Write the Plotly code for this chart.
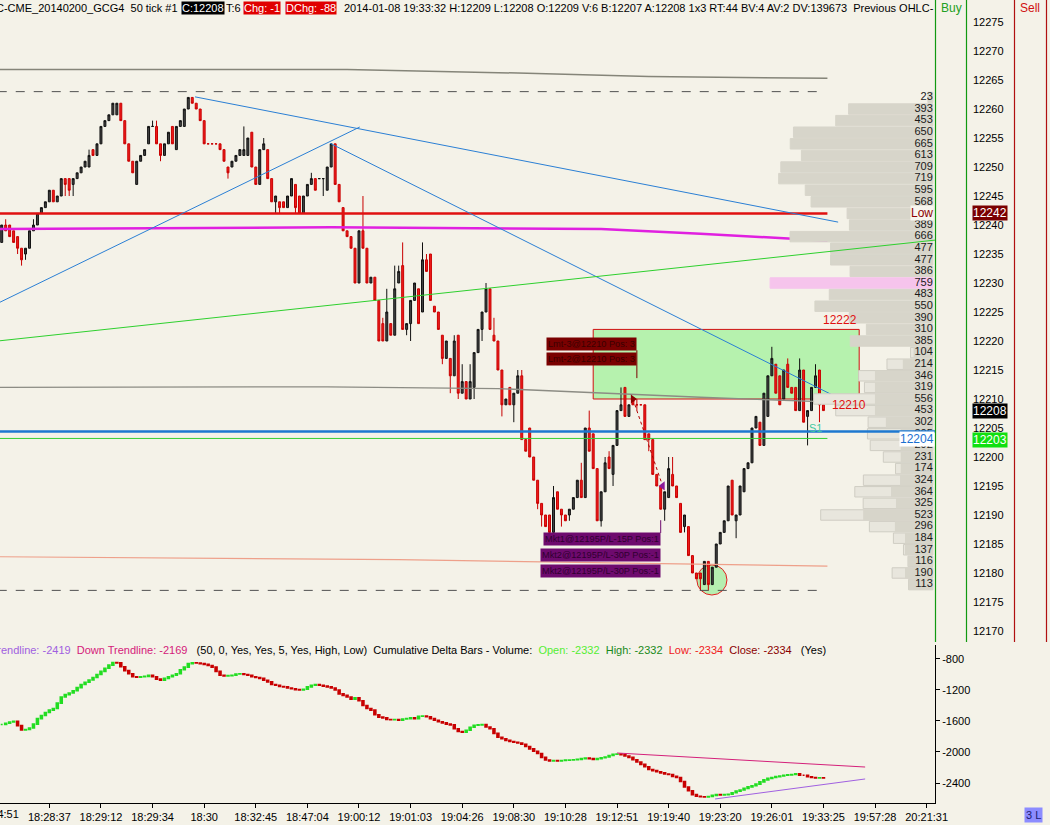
import plotly.graph_objects as go

# ---- 50 tick bars (GC Feb14, prices shown x10) ----
bar_open = [
    12237, 12240, 12240, 12239, 12238, 12236, 12235, 12236, 12239, 12240,
    12242, 12243, 12244, 12246, 12244, 12245, 12248, 12248, 12247, 12248,
    12249, 12250, 12250, 12253, 12252, 12254, 12257, 12258, 12259, 12259,
    12261, 12258, 12254, 12251, 12247, 12251, 12252, 12254, 12257, 12257,
    12254, 12252, 12254, 12257, 12253, 12257, 12257, 12260, 12262, 12261,
    12260, 12258, 12254, 12254, 12254, 12254, 12253, 12250, 12250, 12251,
    12252, 12252, 12252, 12256, 12250, 12247, 12253, 12253, 12248, 12244,
    12244, 12244, 12243, 12245, 12247, 12245, 12242, 12245, 12247, 12248,
    12248, 12248, 12246, 12250, 12254, 12247, 12243, 12239, 12238, 12236,
    12230, 12239, 12236, 12230, 12231, 12227, 12223, 12220, 12223, 12221,
    12230, 12233, 12222, 12223, 12227, 12229, 12225, 12234, 12235, 12226,
    12225, 12221, 12217, 12217, 12214, 12221, 12211, 12213, 12210, 12212,
    12218, 12222, 12225, 12229, 12221, 12220, 12215, 12209, 12212, 12209,
    12211, 12214, 12203, 12205, 12200, 12196, 12192, 12190, 12190, 12187,
    12194, 12191, 12190, 12190, 12191, 12193, 12196, 12193, 12205, 12204,
    12198, 12189, 12194, 12200, 12197, 12202, 12208, 12212, 12207, 12210,
    12209, 12209, 12209, 12204, 12203, 12197, 12195, 12191, 12193, 12197,
    12195, 12192, 12188, 12188, 12183, 12180, 12180, 12178, 12182, 12178,
    12181, 12185, 12187, 12189, 12196, 12189, 12190, 12194, 12198, 12199,
    12205, 12206, 12202, 12207, 12214, 12216, 12214, 12210, 12216, 12212,
    12212, 12208, 12215, 12207, 12208, 12212, 12215, 12209]
bar_close = [
    12240, 12239, 12238, 12237, 12236, 12234, 12236, 12239, 12240, 12242,
    12243, 12244, 12246, 12244, 12245, 12248, 12247, 12246, 12248, 12249,
    12250, 12251, 12252, 12252, 12254, 12257, 12258, 12259, 12261, 12261,
    12258, 12254, 12251, 12249, 12251, 12252, 12253, 12257, 12257, 12254,
    12252, 12254, 12256, 12254, 12257, 12258, 12260, 12262, 12261, 12260,
    12258, 12254, 12254, 12254, 12254, 12253, 12251, 12249, 12251, 12252,
    12253, 12253, 12255, 12250, 12247, 12253, 12254, 12248, 12244, 12245,
    12243, 12243, 12245, 12248, 12243, 12242, 12245, 12247, 12248, 12246,
    12248, 12248, 12250, 12254, 12247, 12244, 12239, 12238, 12236, 12230,
    12239, 12236, 12230, 12231, 12227, 12220, 12220, 12225, 12221, 12229,
    12232, 12222, 12223, 12227, 12230, 12223, 12234, 12232, 12227, 12225,
    12222, 12217, 12220, 12214, 12220, 12211, 12213, 12210, 12213, 12218,
    12222, 12225, 12229, 12222, 12220, 12215, 12209, 12210, 12209, 12211,
    12214, 12203, 12201, 12200, 12196, 12192, 12190, 12188, 12187, 12193,
    12191, 12190, 12189, 12191, 12193, 12196, 12193, 12205, 12201, 12198,
    12189, 12194, 12199, 12198, 12202, 12208, 12209, 12207, 12209, 12209,
    12209, 12209, 12203, 12203, 12197, 12195, 12191, 12194, 12198, 12195,
    12193, 12187, 12190, 12183, 12180, 12179, 12179, 12182, 12178, 12181,
    12185, 12187, 12189, 12195, 12190, 12190, 12195, 12198, 12199, 12205,
    12207, 12202, 12211, 12214, 12217, 12211, 12209, 12215, 12212, 12211,
    12208, 12215, 12206, 12208, 12212, 12214, 12209, 12208]
bar_high = [
    12240, 12241, 12240, 12239, 12238, 12236, 12236, 12239, 12241, 12242,
    12243, 12244, 12246, 12246, 12245, 12248, 12248, 12248, 12248, 12249,
    12250, 12251, 12253, 12253, 12254, 12257, 12258, 12259, 12261, 12261,
    12261, 12258, 12254, 12251, 12251, 12252, 12253, 12257, 12258, 12258,
    12254, 12254, 12256, 12257, 12257, 12258, 12260, 12262, 12262, 12261,
    12260, 12258, 12254, 12254, 12254, 12254, 12253, 12250, 12251, 12252,
    12253, 12257, 12255, 12256, 12250, 12253, 12255, 12253, 12248, 12245,
    12244, 12244, 12245, 12248, 12247, 12245, 12245, 12247, 12249, 12248,
    12248, 12248, 12250, 12254, 12254, 12247, 12243, 12239, 12238, 12236,
    12239, 12245, 12236, 12231, 12231, 12227, 12224, 12229, 12223, 12233,
    12233, 12237, 12223, 12227, 12230, 12229, 12237, 12235, 12235, 12226,
    12225, 12221, 12220, 12217, 12221, 12221, 12216, 12213, 12216, 12218,
    12222, 12225, 12230, 12229, 12224, 12220, 12215, 12210, 12212, 12211,
    12215, 12215, 12203, 12205, 12200, 12196, 12192, 12190, 12190, 12195,
    12194, 12191, 12190, 12191, 12193, 12196, 12199, 12205, 12208, 12204,
    12198, 12194, 12200, 12201, 12202, 12208, 12212, 12212, 12209, 12210,
    12210, 12209, 12209, 12204, 12203, 12197, 12195, 12194, 12200, 12200,
    12195, 12192, 12190, 12188, 12183, 12180, 12180, 12182, 12182, 12181,
    12185, 12187, 12189, 12195, 12196, 12190, 12195, 12198, 12199, 12205,
    12207, 12206, 12211, 12214, 12219, 12216, 12214, 12215, 12217, 12212,
    12212, 12217, 12215, 12208, 12212, 12216, 12215, 12209]
bar_low = [
    12237, 12239, 12238, 12237, 12235, 12233, 12234, 12236, 12239, 12240,
    12242, 12243, 12244, 12244, 12244, 12245, 12245, 12245, 12245, 12248,
    12249, 12250, 12250, 12252, 12252, 12254, 12257, 12258, 12259, 12259,
    12258, 12254, 12251, 12249, 12247, 12251, 12252, 12254, 12257, 12254,
    12251, 12252, 12254, 12254, 12253, 12257, 12257, 12260, 12261, 12260,
    12258, 12254, 12254, 12254, 12254, 12253, 12251, 12248, 12250, 12251,
    12252, 12252, 12252, 12250, 12247, 12247, 12253, 12248, 12244, 12242,
    12242, 12243, 12243, 12245, 12242, 12242, 12242, 12245, 12247, 12246,
    12248, 12245, 12246, 12250, 12247, 12244, 12239, 12238, 12236, 12230,
    12230, 12236, 12230, 12230, 12227, 12220, 12220, 12220, 12221, 12221,
    12230, 12222, 12221, 12220, 12227, 12223, 12225, 12232, 12227, 12225,
    12222, 12216, 12217, 12211, 12214, 12210, 12211, 12210, 12210, 12210,
    12218, 12220, 12225, 12222, 12220, 12215, 12207, 12209, 12209, 12206,
    12211, 12203, 12201, 12200, 12196, 12191, 12188, 12188, 12187, 12187,
    12191, 12188, 12189, 12189, 12191, 12193, 12193, 12193, 12201, 12198,
    12189, 12188, 12194, 12198, 12195, 12202, 12208, 12207, 12207, 12209,
    12208, 12209, 12203, 12201, 12197, 12195, 12191, 12189, 12193, 12195,
    12193, 12187, 12187, 12183, 12180, 12179, 12177, 12178, 12177, 12178,
    12181, 12185, 12187, 12189, 12190, 12186, 12190, 12194, 12198, 12199,
    12205, 12202, 12202, 12207, 12214, 12211, 12209, 12210, 12212, 12211,
    12208, 12208, 12206, 12202, 12208, 12212, 12206, 12208]

# cumulative delta (volume) close of each bar
delta_close = [
    -1645, -1630, -1613, -1605, -1660, -1716, -1710, -1690, -1640, -1570,
    -1530, -1490, -1460, -1440, -1370, -1290, -1260, -1240, -1210, -1170,
    -1130, -1100, -1071, -1040, -1000, -960, -920, -880, -845, -850,
    -900, -950, -990, -1030, -1035, -1030, -1025, -1010, -1030, -1060,
    -1075, -1050, -1030, -1010, -990, -940, -905, -860, -850, -852,
    -860, -870, -885, -905, -960, -1010, -1020, -1015, -1010, -995,
    -990, -1000, -1010, -1030, -1040, -1050, -1075, -1095, -1130, -1140,
    -1155, -1160, -1175, -1185, -1195, -1200, -1190, -1160, -1140, -1130,
    -1140, -1150, -1160, -1175, -1200, -1250, -1270, -1290, -1320, -1300,
    -1340, -1400, -1440, -1460, -1520, -1550, -1560, -1580, -1585, -1580,
    -1590, -1575, -1570, -1560, -1570, -1540, -1535, -1545, -1570, -1590,
    -1610, -1625, -1640, -1650, -1700, -1735, -1745, -1720, -1680, -1655,
    -1650, -1645, -1677, -1700, -1760, -1810, -1830, -1850, -1865, -1875,
    -1884, -1900, -1930, -1960, -1990, -2020, -2070, -2103, -2115, -2110,
    -2116, -2110, -2105, -2103, -2100, -2095, -2085, -2077, -2085, -2095,
    -2085, -2075, -2065, -2045, -2030, -2026, -2035, -2052, -2070, -2100,
    -2130, -2160, -2190, -2225, -2240, -2255, -2270, -2284, -2290, -2315,
    -2330, -2380, -2452, -2500, -2550, -2570, -2578, -2581, -2575, -2560,
    -2550, -2555, -2550, -2545, -2525, -2505, -2490, -2470, -2450, -2435,
    -2415, -2385, -2360, -2340, -2330, -2318, -2310, -2300, -2295, -2290,
    -2280, -2300, -2300, -2320, -2330, -2334, -2332, -2334]

first_time_label = '18:24:51'   # sits half off the left edge
time_labels = ['18:28:37', '18:29:12', '18:29:34', '18:30', '18:32:45',
               '18:47:04', '19:00:12', '19:01:03', '19:04:26', '19:08:30', '19:10:28',
               '19:12:51', '19:19:40', '19:23:20', '19:26:01', '19:33:25', '19:57:28',
               '20:21:31']
time_ticks = [13, 26, 39, 52, 65, 78, 91, 104, 117, 130, 143, 156, 169, 182,
              195, 208, 221, 234]

# volume profile
profile_price = [12262, 12260, 12258, 12256, 12254, 12252, 12250, 12248, 12246, 12244,
                 12242, 12240, 12238, 12236, 12234, 12232, 12230, 12228, 12226, 12224,
                 12222, 12220, 12218, 12216, 12214, 12212, 12210, 12208, 12206, 12204,
                 12202, 12200, 12198, 12196, 12194, 12192, 12190, 12188, 12186, 12184,
                 12182, 12180, 12178]
profile_vol = [23, 393, 453, 650, 665, 613, 709, 719, 595, 568,
               400, 389, 666, 477, 477, 386, 759, 483, 550, 390,
               310, 385, 104, 214, 346, 319, 556, 453, 302, 305,
               292, 231, 174, 324, 364, 325, 523, 296, 184, 137,
               116, 190, 113]
lower_price = [12218, 12216, 12214, 12212, 12210, 12208, 12206, 12204, 12202, 12200,
               12198, 12196, 12194, 12192, 12190, 12188, 12186, 12184, 12182, 12180,
               12178]
lower_inner = [90, 140, 270, 270, 270, 270, 219, 150, 150, 150,
               150, 153, 195, 172, 325, 177, 130, 130, 116, 130, 113]
poc_price = 12230

# levels and drawn lines
prev_high_x = [0, 88, 131, 164, 209]
prev_high_y = [12266.8, 12266.8, 12266.2, 12265.6, 12265.3]
dash_high = 12263
dash_low = 12177
mid_x = [0, 83, 126, 159, 177, 209]
mid_y = [12212.0, 12212.1, 12211.8, 12210.8, 12210.3, 12209.5]
salmon_x = [0, 101, 209]
salmon_y = [12182.8, 12182.3, 12181.2]
day_low = 12242
magenta_x = [0, 41, 84, 152, 177, 209]
magenta_y = [12239.3, 12239.5, 12239.6, 12239.3, 12238.5, 12237.3]
s1_level = 12203.2
pivot_level = 12204.4
level_end = 209
trend_a_x = [49.7, 211.7]
trend_a_y = [12262.1, 12240.5]
trend_b_x = [0, 91.2]
trend_b_y = [12226.5, 12256.9]
trend_c_x = [83.7, 211.7]
trend_c_y = [12254.1, 12210.2]
green_x = [0, 236.1]
green_y = [12220.0, 12237.4]

zone_low = 12210
zone_high = 12222
zone_x = [150, 217]

exec_x = [160, 167.5]
exec_y = [12210, 12195]

dtrend_down_x = [156, 218.5]
dtrend_down_y = [-2013, -2194]
dtrend_up_x = [180.7, 218.5]
dtrend_up_y = [-2606, -2348]

BG = '#f4f2e8'
FONT = 'Liberation Sans'

fig = go.Figure()
bar_x = list(range(1, len(bar_close) + 1))


def line(xs, ys, color, width, dash='solid'):
    fig.add_trace(go.Scatter(x=xs, y=ys, mode='lines', xaxis='x3', yaxis='y',
                             line=dict(color=color, width=width, dash=dash),
                             hoverinfo='skip'))


# levels / trendlines behind the bars
line(prev_high_x, prev_high_y, '#858579', 1.5)
line([0, level_end - 0.6], [dash_high, dash_high], '#505050', 1, 'dash')
line([0, level_end - 0.6], [dash_low, dash_low], '#505050', 1, 'dash')
line(mid_x, mid_y, '#8c8c84', 1.3)
line(salmon_x, salmon_y, '#eea08a', 1.2)
line([0, level_end], [day_low, day_low], '#e01010', 2.5)
line(magenta_x, magenta_y, '#e020e0', 2.5)
line([0, level_end], [s1_level, s1_level], '#33d033', 1)
line(trend_a_x, trend_a_y, '#2a7fd4', 1)
line(trend_b_x, trend_b_y, '#2a7fd4', 1)
line(trend_c_x, trend_c_y, '#2a7fd4', 1)

# price bars
fig.add_trace(go.Candlestick(
    x=bar_x, open=bar_open, high=bar_high, low=bar_low, close=bar_close,
    xaxis='x3', yaxis='y', whiskerwidth=0,
    increasing=dict(line=dict(color='#101010', width=1), fillcolor='#454545'),
    decreasing=dict(line=dict(color='#c80000', width=1), fillcolor='#f01c1c'),
    hoverinfo='skip'))

# the trade
fig.add_trace(go.Scatter(x=exec_x, y=exec_y, mode='lines', xaxis='x3', yaxis='y',
                         line=dict(color='#b00000', width=1, dash='dot'), hoverinfo='skip'))
fig.add_trace(go.Scatter(x=exec_x[:1], y=exec_y[:1], mode='markers', xaxis='x3', yaxis='y',
                         marker=dict(symbol='triangle-right', size=8, color='#8b0000'),
                         hoverinfo='skip'))
fig.add_trace(go.Scatter(x=exec_x[1:], y=exec_y[1:], mode='markers', xaxis='x3', yaxis='y',
                         marker=dict(symbol='triangle-left', size=8, color='#8a1a9a'),
                         hoverinfo='skip'))

# volume profile on the right
fill_cols, edge_cols = [], []
for p in profile_price:
    if p == poc_price:
        fill_cols.append('#f6c4ec')
        edge_cols.append('#f6c4ec')
    elif p >= 12220:
        fill_cols.append('#d7d5ca')
        edge_cols.append('#d7d5ca')
    else:
        fill_cols.append('#e8e6dd')
        edge_cols.append('#cfcdc3')
fig.add_trace(go.Bar(x=profile_vol, y=profile_price, orientation='h', width=1.8,
                     xaxis='x2', yaxis='y',
                     marker=dict(color=fill_cols, line=dict(color=edge_cols, width=1)),
                     hoverinfo='skip'))
fig.add_trace(go.Bar(x=lower_inner, y=lower_price, orientation='h', width=1.8,
                     xaxis='x2', yaxis='y',
                     marker=dict(color='#d7d5ca', line=dict(width=0)), hoverinfo='skip'))
vol_text = ['' if p == day_low else str(v) for p, v in zip(profile_price, profile_vol)]
fig.add_trace(go.Scatter(x=[0] * len(profile_price), y=profile_price, mode='text',
                         text=vol_text, textposition='middle left', xaxis='x2', yaxis='y',
                         textfont=dict(family=FONT, size=11, color='#1a1a1a'),
                         cliponaxis=False, hoverinfo='skip'))

# cumulative delta panel
delta_open = [delta_close[0]] + delta_close[:-1]
fig.add_trace(go.Candlestick(
    x=bar_x, open=delta_open, close=delta_close,
    high=[max(o, c) for o, c in zip(delta_open, delta_close)],
    low=[min(o, c) for o, c in zip(delta_open, delta_close)],
    xaxis='x', yaxis='y2', whiskerwidth=0,
    increasing=dict(line=dict(color='#22dd22', width=1.6), fillcolor='#22dd22'),
    decreasing=dict(line=dict(color='#c80000', width=1.6), fillcolor='#c80000'),
    hoverinfo='skip'))
fig.add_trace(go.Scatter(x=dtrend_down_x, y=dtrend_down_y, mode='lines', xaxis='x', yaxis='y2',
                         line=dict(color='#d4207a', width=1), hoverinfo='skip'))
fig.add_trace(go.Scatter(x=dtrend_up_x, y=dtrend_up_y, mode='lines', xaxis='x', yaxis='y2',
                         line=dict(color='#a060e0', width=1), hoverinfo='skip'))

# shapes: zone, circle, lines drawn over the profile, right strip
fig.add_shape(type='rect', xref='x3', yref='y', x0=zone_x[0], x1=zone_x[1],
              y0=zone_low, y1=zone_high, fillcolor='#b6f2ae',
              line=dict(color='#d01010', width=1), layer='below')
fig.add_shape(type='circle', xref='x3', yref='y', x0=176.1, x1=183.7,
              y0=12176.2, y1=12181.4, fillcolor='#b6eeb0',
              line=dict(color='#e02020', width=1), layer='below')
fig.add_shape(type='line', xref='x3', yref='y', x0=0, x1=236.1,
              y0=pivot_level, y1=pivot_level, line=dict(color='#1e78d0', width=2.5))
fig.add_shape(type='line', xref='x3', yref='y', x0=green_x[0], x1=green_x[1],
              y0=green_y[0], y1=green_y[1], line=dict(color='#2ed02e', width=1))
# order tails
fig.add_shape(type='line', xref='x3', yref='y', x0=161, x1=161, y0=12213.6, y1=12218.4,
              line=dict(color='#7a0000', width=1))
fig.add_shape(type='line', xref='x3', yref='y', x0=167, x1=167, y0=12186.9, y1=12189.1,
              line=dict(color='#6e0a6e', width=1))

top_main = (803 - 642) / 803
for px, col in [(935.5, '#119911'), (966.5, '#119911'), (1014.5, '#b01010'),
                (1046.5, '#b01010')]:
    fig.add_shape(type='line', xref='paper', yref='paper', x0=px / 935, x1=px / 935,
                  y0=top_main, y1=1, line=dict(color=col, width=1.2))


def note(text, x, y, xref='paper', yref='paper', color='black', size=11, bg=None,
         xanchor='left', yanchor='middle', pad=1):
    fig.add_annotation(text=text, x=x, y=y, xref=xref, yref=yref, showarrow=False,
                       font=dict(family=FONT, size=size, color=color),
                       bgcolor=bg, xanchor=xanchor, yanchor=yanchor, borderpad=pad)


# header line
hy = (803 - 8) / 803
note('C-CME_20140200_GCG4\u00a0\u00a050 tick\u00a0#1', 180 / 935, hy, xanchor='right')
note('C:12208', 181 / 935, hy, color='white', bg='#000000', pad=0)
note('T:6', 224 / 935, hy)
note('Chg: -1', 243 / 935, hy, color='white', bg='#e00000', pad=0)
note('DChg: -88', 285 / 935, hy, color='white', bg='#e00000', pad=0)
note('2014-01-08 19:33:32 H:12209 L:12208 O:12209 V:6 B:12207 A:12208 1x3 RT:44 '
     'BV:4 AV:2 DV:139673\u00a0\u00a0Previous OHLC-', 342 / 935, hy)
note('Buy', 951 / 935, hy, color='#22a022', size=12, xanchor='center')
note('Sell', 1030 / 935, hy, color='#d01010', size=12, xanchor='center')

# price labels on the right axis
note('12242', 990 / 935, day_low, yref='y', color='white', size=12, bg='#7a0000',
     xanchor='center', pad=0)
note('12208', 990 / 935, bar_close[-1], yref='y', color='white', size=12, bg='#000000',
     xanchor='center', pad=0)
note('12203', 990 / 935, 12203, yref='y', color='white', size=12, bg='#10e010',
     xanchor='center', pad=0)

# in-chart labels
note('Low', 922 / 935, day_low, yref='y', color='#8b0000', size=12, bg='#f7f5ee',
     xanchor='center', pad=0)
note('12204', 1.0, 12203.1, yref='y', color='#1a70d0', size=12, bg='#ffffff',
     xanchor='right', pad=0)
note(str(zone_high), zone_x[1], zone_high, xref='x3', yref='y', color='#e01010', size=12,
     xanchor='right', yanchor='bottom')
note(str(zone_low), 209.6, zone_low - 1, xref='x3', yref='y', color='#e01010', size=12)
note('S1', 206.1, 12205, xref='x3', yref='y', color='#40c8a0', size=11, xanchor='center')

for i, t in enumerate(['Lmt-3@12210 Pos: 3', 'Lmt-2@12210 Pos: 3']):
    note(t, 161, 12219.5 - 2.6 * i, xref='x3', yref='y', color='#3a0000', size=9.2,
         bg='#7a0000', xanchor='right', pad=1)
for i, t in enumerate(['Mkt1@12195P/L-15P Pos:1', 'Mkt2@12195P/L-30P Pos:-1',
                       'Mkt2@12195P/L-30P Pos:-1']):
    note(t, 167, 12185.9 - 2.75 * i, xref='x3', yref='y', color='#300030', size=9.2,
         bg='#6e0a6e', xanchor='right', pad=1)

# first time label, half off the left edge
note(first_time_label, -3 / 935, (803 - 814) / 803, xanchor='center')

# delta panel legend
legend = ('<span style="color:#a060e0">Up Trendline: -2419</span>\u00a0\u00a0'
          '<span style="color:#d4207a">Down Trendline: -2169</span>\u00a0\u00a0\u00a0'
          '(50, 0, Yes, Yes, 5, Yes, High, Low)\u00a0\u00a0Cumulative Delta Bars - Volume:\u00a0\u00a0'
          '<span style="color:#55ee33">Open: -2332</span>\u00a0\u00a0'
          '<span style="color:#1a8a1a">High: -2332</span>\u00a0\u00a0'
          '<span style="color:#f02020">Low: -2334</span>\u00a0\u00a0'
          '<span style="color:#8b0000">Close: -2334</span>\u00a0\u00a0\u00a0(Yes)')
note(legend, -28 / 935, (803 - 650) / 803, size=11)
note('3 L', 1033 / 935, (803 - 815) / 803, color='#202070', size=11, bg='#8c8cff',
     xanchor='center', pad=1)

fig.update_layout(
    width=1050, height=825,
    margin=dict(l=0, r=115, t=0, b=22),
    paper_bgcolor=BG, plot_bgcolor=BG,
    showlegend=False,
    barmode='overlay',
    font=dict(family=FONT, size=11, color='black'),
    xaxis=dict(domain=[0, 1], range=[0.57, 236.1], anchor='y2',
               tickvals=time_ticks, ticktext=time_labels,
               showline=True, linecolor='black', linewidth=1, mirror=False,
               ticks='outside', ticklen=4, tickcolor='black',
               showgrid=False, zeroline=False, rangeslider=dict(visible=False),
               tickfont=dict(size=11)),
    xaxis3=dict(matches='x', anchor='y', visible=False, rangeslider=dict(visible=False)),
    xaxis2=dict(overlaying='x3', anchor='y', range=[4350, -10], visible=False),
    yaxis=dict(domain=[top_main, 1], range=[12168.1, 12278.8], side='right',
               tickvals=list(range(12170, 12276, 5)), tickformat='d',
               showgrid=False, zeroline=False, ticks='', ticklabelstandoff=37,
               tickfont=dict(size=11)),
    yaxis2=dict(domain=[0, (803 - 645) / 803], range=[-2658, -620], side='right',
                tickvals=[-800, -1200, -1600, -2000, -2400],
                ticktext=['-800', '-1200', '-1600', '-2000', '-2400'],
                showline=True, linecolor='black', ticks='outside', ticklen=4,
                tickcolor='black', showgrid=False, zeroline=False,
                tickfont=dict(size=11)),
)

# the page body has a default margin; drop it so the chart fills the window
fig.write_html("out.html", config={'displayModeBar': False},
               post_script="document.body.style.margin='0';")
